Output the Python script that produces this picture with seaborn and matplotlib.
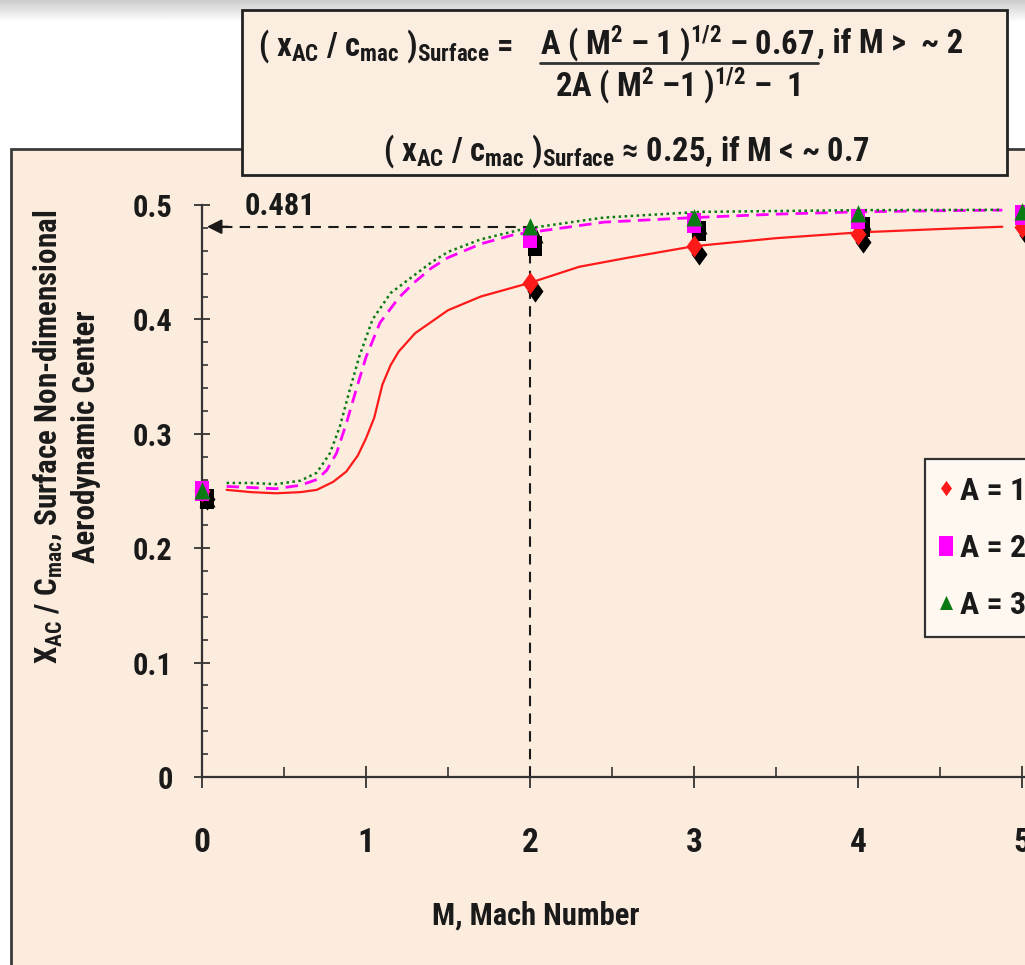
import numpy as np
import pandas as pd
import matplotlib
matplotlib.use("Agg")
import matplotlib.pyplot as plt
import matplotlib.font_manager as fm
from matplotlib.patches import Rectangle
from matplotlib.lines import Line2D
from matplotlib.transforms import offset_copy
from matplotlib.ticker import MultipleLocator
import seaborn as sns

# ---- data -----------------------------------------------------------------
# Mach numbers at which the surface aerodynamic centre was evaluated
mach_points = [0, 2, 3, 4, 5]
ac_a1 = [0.250, 0.432, 0.464, 0.475, 0.481]
ac_a2 = [0.250, 0.471, 0.484, 0.488, 0.491]
ac_a3 = [0.250, 0.481, 0.489, 0.492, 0.494]

# Continuous trend curves through the transonic region
curve_m1 = [0.15, 0.30, 0.45, 0.60, 0.70, 0.80, 0.88, 0.95, 1.00, 1.05, 1.10,
            1.15, 1.20, 1.30, 1.40, 1.50, 1.70, 2.00, 2.30, 2.60, 3.00, 3.50,
            4.00, 4.50, 4.88]
curve_a1 = [0.251, 0.249, 0.248, 0.249, 0.251, 0.258, 0.267, 0.281, 0.296,
            0.314, 0.343, 0.360, 0.372, 0.388, 0.398, 0.408, 0.420, 0.432,
            0.446, 0.454, 0.464, 0.471, 0.476, 0.479, 0.481]

curve_m2 = [0.15, 0.30, 0.45, 0.60, 0.70, 0.76, 0.82, 0.88, 0.945, 1.00, 1.085,
            1.20, 1.30, 1.40, 1.50, 1.70, 1.90, 2.20, 2.45, 3.00, 3.50, 4.00,
            4.50, 4.88]
curve_a2 = [0.254, 0.253, 0.252, 0.255, 0.260, 0.268, 0.283, 0.309, 0.341,
            0.367, 0.397, 0.419, 0.433, 0.445, 0.454, 0.466, 0.474, 0.480,
            0.485, 0.489, 0.492, 0.494, 0.495, 0.4955]

curve_m3 = [0.15, 0.30, 0.45, 0.60, 0.70, 0.78, 0.84, 0.90, 0.96, 1.04, 1.15,
            1.27, 1.40, 1.50, 1.70, 1.96, 2.30, 2.45, 3.04, 4.00, 4.88]
curve_a3 = [0.257, 0.257, 0.256, 0.259, 0.266, 0.283, 0.306, 0.338, 0.368,
            0.400, 0.423, 0.436, 0.450, 0.459, 0.470, 0.479, 0.486, 0.489,
            0.494, 0.4955, 0.4958]

series_labels = ["A = 1", "A = 2", "A = 3"]
marked_value = 0.481
marked_mach = 2

x_ticks = [0, 1, 2, 3, 4, 5]
y_ticks = [0, 0.1, 0.2, 0.3, 0.4, 0.5]
y_tick_labels = ["0", "0.1", "0.2", "0.3", "0.4", "0.5"]

# ---- fonts ------------------------------------------------------------------
sns.set_theme(style="ticks")


def _weight(e):
    w = e.weight
    if isinstance(w, str):
        w = fm.weight_dict.get(w, 400)
    return w


def _is_narrow(e):
    s = str(e.stretch)
    tag = (e.name + " " + e.fname).lower()
    return ("narrow" in tag or "condensed" in tag
            or s in ("condensed", "semi-condensed", "extra-condensed", "ultra-condensed")
            or (s.isdigit() and int(s) < 100))


def pick_narrow_bold():
    cands = [e for e in fm.fontManager.ttflist
             if _is_narrow(e) and _weight(e) >= 600 and "italic" not in e.fname.lower()
             and e.style == "normal"]
    for pref in ("Liberation Sans Narrow", "Roboto Condensed", "Arimo",
                 "Noto Sans", "Open Sans", "Roboto", "Liberation Sans", "DejaVu Sans"):
        for e in cands:
            if e.name.startswith(pref):
                return e
    return None


entry = pick_narrow_bold()
if entry is not None:
    FONT, STRETCH, SCALE = entry.name, entry.stretch, 1.0
else:
    FONT, STRETCH, SCALE = "Liberation Sans", "normal", 0.86

plt.rcParams["font.family"] = [FONT, "DejaVu Sans"]
plt.rcParams["font.weight"] = "bold"
plt.rcParams["font.stretch"] = STRETCH
plt.rcParams["mathtext.fontset"] = "custom"
for key in ("rm", "it", "bf", "sf"):
    plt.rcParams[f"mathtext.{key}"] = f"{FONT}:weight=bold:stretch={STRETCH}"
plt.rcParams["mathtext.default"] = "rm"


def fs(size):
    return size * SCALE


INK = "#1a1a1a"
PANEL = "#FCECDD"
RED, MAGENTA, GREEN = "#FF1A1A", "#FF00FF", "#0A7A12"

W, H = 1025, 965
fig = plt.figure(figsize=(W / 100, H / 100), dpi=100)
fig.patch.set_facecolor("white")


def fx(px):
    return px / W


def fy(py):
    return 1 - py / H


# soft grey shading along the top edge
shade = fig.add_axes([0, fy(22), 1, 22 / H], zorder=-5)
grad = np.linspace(0.80, 1.0, 50)[:, None] * np.ones((1, 10))
shade.imshow(grad, cmap="gray", vmin=0, vmax=1, aspect="auto", extent=[0, 1, 0, 1])
shade.axis("off")

# slide panel behind the chart
fig.patches.append(Rectangle((fx(11), fy(H + 20)), 1.2, (H + 20 - 149) / H,
                             transform=fig.transFigure, facecolor=PANEL,
                             edgecolor="#3a3a3a", linewidth=2, zorder=-4))

# formula box
fig.patches.append(Rectangle((fx(242), fy(175)), (1007 - 242) / W, (175 - 10) / H,
                             transform=fig.transFigure, facecolor="#FCEDE1",
                             edgecolor="#222222", linewidth=2, zorder=2))

# ---- axes ------------------------------------------------------------------
ax = fig.add_axes([fx(202), fy(777), (W - 202) / W, (777 - 205) / H])
ax.set_facecolor("none")
ax.set_xlim(0, (W - 202) / 164)
ax.set_ylim(0, 0.5)

for sp in ("top", "right"):
    ax.spines[sp].set_visible(False)
for sp in ("left", "bottom"):
    ax.spines[sp].set_color("#333333")
    ax.spines[sp].set_linewidth(1.6)
ax.spines["left"].set_bounds(0, 0.5)

ax.set_xticks(x_ticks)
ax.set_xticklabels([str(t) for t in x_ticks])
ax.set_yticks(y_ticks)
ax.set_yticklabels(y_tick_labels)
ax.xaxis.set_minor_locator(MultipleLocator(0.5))
ax.yaxis.set_minor_locator(MultipleLocator(0.02))
ax.tick_params(axis="x", which="major", direction="inout", length=16, width=1.3,
               color="#333333", pad=28, labelsize=fs(24), labelcolor=INK)
ax.tick_params(axis="x", which="minor", direction="in", length=7, width=1.2,
               color="#333333")
ax.tick_params(axis="y", which="major", direction="inout", length=12, width=1.3,
               color="#333333", pad=15, labelsize=fs(22), labelcolor=INK)
ax.tick_params(axis="y", which="minor", direction="in", length=4.5, width=1.2,
               color="#333333")

# trend curves
curves = [
    (curve_m1, curve_a1, RED, "-", 1.6),
    (curve_m2, curve_a2, MAGENTA, (0, (4.5, 2.6)), 2.0),
    (curve_m3, curve_a3, GREEN, (0, (1.0, 1.4)), 1.8),
]
for m, v, c, ls, lw in curves:
    df = pd.DataFrame({"M": m, "xac": v})
    sns.lineplot(data=df, x="M", y="xac", ax=ax, color=c, linestyle=ls,
                 linewidth=lw, sort=True, zorder=3, clip_on=False)

# guide to the M = 2, A = 3 value
ax.plot([0.12, marked_mach], [marked_value, marked_value], color=INK,
        linestyle=(0, (5, 3.5)), linewidth=1.5, zorder=2, clip_on=False)
ax.plot([marked_mach, marked_mach], [0, marked_value], color=INK,
        linestyle=(0, (5, 3.5)), linewidth=1.5, zorder=2, clip_on=False)
ax.annotate("", xy=(0.03, marked_value), xytext=(0.16, marked_value),
            arrowprops=dict(arrowstyle="-|>", color=INK, lw=1.5,
                            mutation_scale=22, shrinkA=0, shrinkB=0),
            zorder=2, annotation_clip=False)
ax.text(0.26, 0.4995, f"{marked_value:.3f}", fontsize=fs(22), color=INK,
        ha="left", va="center", clip_on=False)

# marker shapes (drawn slightly taller than wide)
DIAMOND = [(0, 1.0), (0.72, 0), (0, -1.0), (-0.72, 0), (0, 1.0)]
SQUARE = [(-0.72, -1.0), (0.72, -1.0), (0.72, 1.0), (-0.72, 1.0), (-0.72, -1.0)]
TRIANGLE = [(0, 1.0), (0.85, -0.85), (-0.85, -0.85), (0, 1.0)]

marker_specs = [
    (ac_a1, DIAMOND, RED, 16.0),
    (ac_a2, SQUARE, MAGENTA, 14.5),
    (ac_a3, TRIANGLE, GREEN, 13.5),
]
shadow_tf = offset_copy(ax.transData, fig=fig, x=5, y=-8, units="dots")
for vals, mk, c, ms in marker_specs:
    df = pd.DataFrame({"M": mach_points, "xac": vals})
    sns.scatterplot(data=df, x="M", y="xac", ax=ax, marker=mk, s=ms ** 2,
                    color="black", linewidth=0, transform=shadow_tf,
                    zorder=4, clip_on=False, legend=False)
for vals, mk, c, ms in marker_specs:
    df = pd.DataFrame({"M": mach_points, "xac": vals})
    sns.scatterplot(data=df, x="M", y="xac", ax=ax, marker=mk, s=ms ** 2,
                    color=c, linewidth=0, zorder=5, clip_on=False, legend=False)

# axis titles
ax.set_xlabel("M, Mach Number", fontsize=fs(22), fontweight="bold", color=INK)
ax.xaxis.set_label_coords((536 - 202) / (W - 202), (777 - 916) / 572)
ax.xaxis.label.set_va("center")
ax.set_ylabel("X$_{AC}$ / C$_{mac}$, Surface Non-dimensional\nAerodynamic Center",
              fontsize=fs(22.3), fontweight="bold", color=INK, linespacing=1.3,
              multialignment="center")
ax.yaxis.set_label_coords((66 - 202) / (W - 202), (777 - 437) / 572)
ax.yaxis.label.set_va("center")

# legend
handles = [
    Line2D([], [], ls="none", marker=DIAMOND, color=RED, markersize=11, markeredgewidth=0),
    Line2D([], [], ls="none", marker=SQUARE, color=MAGENTA, markersize=14, markeredgewidth=0),
    Line2D([], [], ls="none", marker=TRIANGLE, color=GREEN, markersize=11, markeredgewidth=0),
]
leg = ax.legend(handles, series_labels, loc="upper left",
                bbox_to_anchor=(fx(925), fy(459)), bbox_transform=fig.transFigure,
                frameon=True, fancybox=False, edgecolor="#333333",
                facecolor="#FFF8F1", framealpha=1, fontsize=fs(23),
                handlelength=0.3, handletextpad=0.26, labelspacing=0.85,
                borderpad=0.52, borderaxespad=0)
leg.get_frame().set_linewidth(1.6)
for t in leg.get_texts():
    t.set_color(INK)

# ---- formula box text -------------------------------------------------------
FS = fs(23.5)
fig.text(fx(258), fy(46), "( x$_{AC}$ / c$_{mac}$ )$_{Surface}$ =", fontsize=FS,
         color=INK, ha="left", va="center", zorder=3)
num = fig.text(fx(540), fy(44), "A ( M$^{2}$ – 1 )$^{1/2}$ – 0.67", fontsize=FS,
               color=INK, ha="left", va="center", zorder=3)
fig.canvas.draw()
bb = num.get_window_extent().transformed(fig.transFigure.inverted())
fig.lines.append(Line2D([bb.x0, bb.x1 + 0.003], [fy(63), fy(63)],
                        transform=fig.transFigure, color="#333333", lw=2, zorder=3))
fig.text(bb.x1 + 0.002, fy(44), ", if M >  ~ 2", fontsize=FS, color=INK,
         ha="left", va="center", zorder=3)
fig.text((bb.x0 + bb.x1) / 2, fy(86), "2A ( M$^{2}$ –1 )$^{1/2}$ –  1", fontsize=FS,
         color=INK, ha="center", va="center", zorder=3)
fig.text(fx(626), fy(151),
         "( x$_{AC}$ / c$_{mac}$ )$_{Surface}$ ≈ 0.25, if M < ~ 0.7",
         fontsize=FS, color=INK, ha="center", va="center", zorder=3)

fig.savefig("out.png", dpi=100)
